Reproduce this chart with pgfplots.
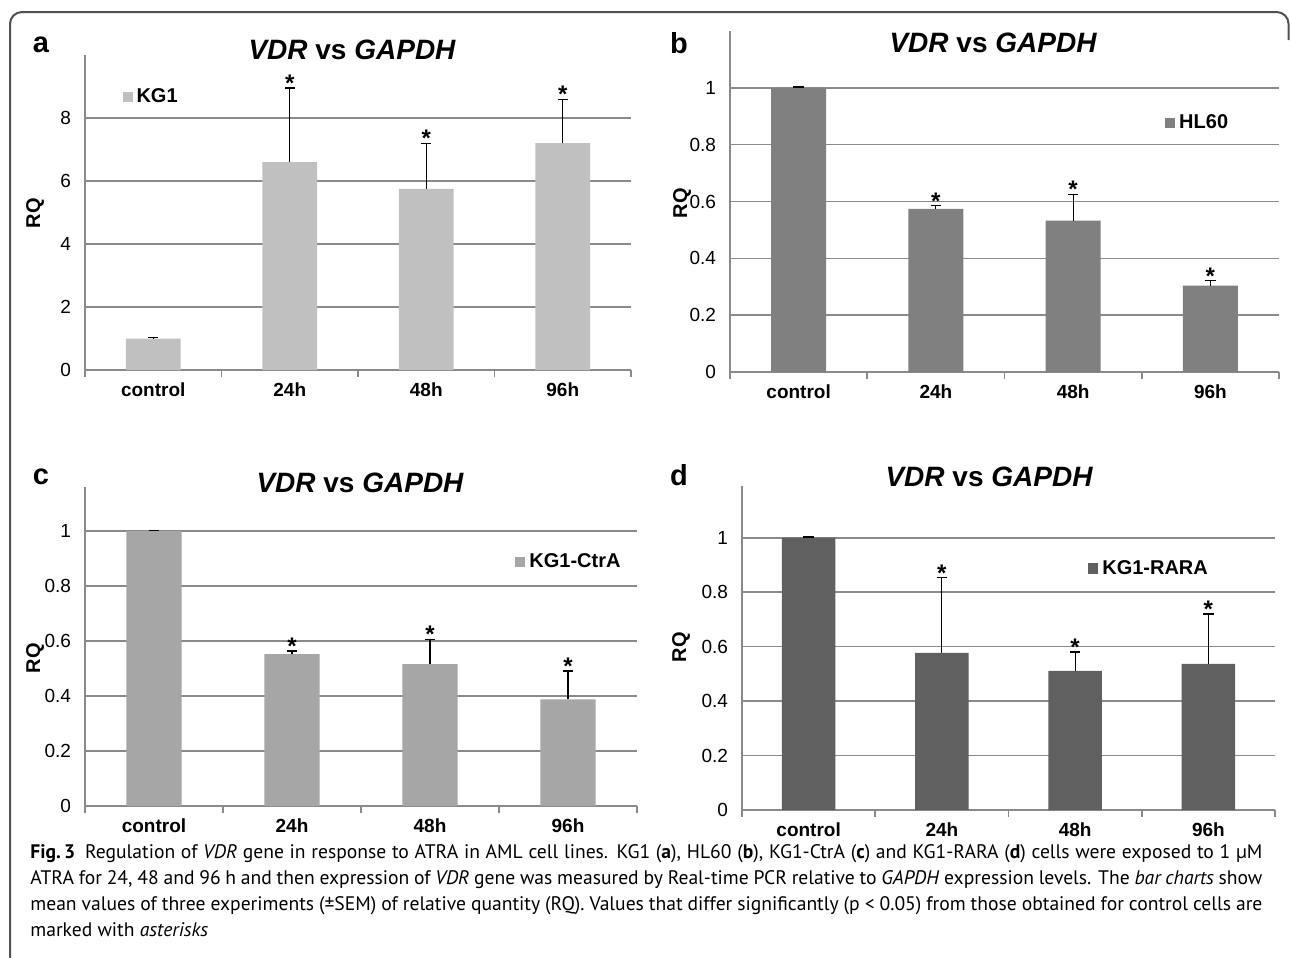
\documentclass[border=0pt]{standalone}
\usepackage{pgfplots}
\pgfplotsset{compat=1.18}
\usepackage{fontspec}
\setmainfont{Liberation Sans}
\newfontfamily\capfont{PT Sans}
\definecolor{barA}{HTML}{C0C0C0}
\definecolor{barB}{HTML}{808080}
\definecolor{barC}{HTML}{A6A6A6}
\definecolor{barD}{HTML}{606060}
\definecolor{gridc}{HTML}{8A8A8A}
\definecolor{framec}{HTML}{505050}

\pgfplotsset{
  panel/.style={
    scale only axis,
    clip=false,
    xmin=-0.5, xmax=3.5,
    ymin=0,
    xtick={0,1,2,3},
    xticklabels={control,24h,48h,96h},
    minor xtick={-0.5,0.5,1.5,2.5,3.5},
    major tick length=0pt,
    minor tick length=3.5pt,
    tick align=outside,
    xtick pos=bottom, ytick pos=left,
    axis x line*=bottom, axis y line*=left,
    axis line style={gridc, line width=0.8pt, -},
    every minor tick/.append style={gridc, line width=0.8pt},
    ymajorgrids, grid style={gridc, line width=0.8pt},
    /pgf/number format/assume math mode=true,
    xticklabel style={font=\bfseries\fontsize{9.5}{10}\selectfont, yshift=-3pt},
    yticklabel style={font=\fontsize{9.5}{10}\selectfont, xshift=-3.5pt},
    legend style={draw=none, fill=none, font=\bfseries\fontsize{10}{11}\selectfont, inner sep=0pt},
  },
  barplot/.style={
    ybar, bar width=0.4, bar shift=0pt, fill=#1, draw=none,
    legend image code/.code={\fill[#1] (0pt,-2.6pt) rectangle (5pt,2.6pt);},
    error bars/.cd, y dir=plus, y explicit,
    error bar style={black, line width=0.6pt},
    error mark options={black, line width=0.6pt, mark size=2.6pt, rotate=90},
  },
  stars/.style={
    draw=none, forget plot,
    nodes near coords={*},
    every node near coord/.append style={font=\bfseries\fontsize{12}{12}\selectfont, anchor=south, inner sep=0pt, yshift=-2pt},
  },
}

\begin{document}
\begin{tikzpicture}
\useasboundingbox (0pt,0pt) rectangle (645pt,-479pt);
\draw[framec, line width=1pt, rounded corners=6pt] (5pt,-480pt) -- (5pt,-6pt) -- (644.3pt,-6pt) -- (644.3pt,-20pt);

% ---------- panel a ----------
\begin{axis}[panel, at={(42.5pt,-185pt)}, anchor=south west,
  width=273pt, height=157.5pt, ymax=10, ytick={0,2,4,6,8},
  legend style={at={(0.068,0.867)}, anchor=west}]
\addplot[barplot=barA] table[x=x, y=y, y error=e] {
x y e
0 1.00 0.02
1 6.60 2.35
2 5.75 1.45
3 7.20 1.40
};
\legend{KG1}
\addplot[stars] coordinates {(1,8.95) (2,7.20) (3,8.60)};
\end{axis}

% ---------- panel b ----------
\begin{axis}[panel, at={(365pt,-186pt)}, anchor=south west,
  width=274.5pt, height=170.5pt, ymax=1.2, ytick={0,0.2,0.4,0.6,0.8,1},
  legend style={at={(0.792,0.73)}, anchor=west}]
\addplot[barplot=barB] table[x=x, y=y, y error=e] {
x y e
0 1.000 0.003
1 0.574 0.011
2 0.533 0.093
3 0.304 0.018
};
\legend{HL60}
\addplot[stars] coordinates {(1,0.585) (2,0.626) (3,0.322)};
\end{axis}

% ---------- panel c ----------
\begin{axis}[panel, at={(42.5pt,-403pt)}, anchor=south west,
  width=276pt, height=159.5pt, ymax=1.16, ytick={0,0.2,0.4,0.6,0.8,1},
  legend style={at={(0.779,0.765)}, anchor=west}]
\addplot[barplot=barC] table[x=x, y=y, y error=e] {
x y e
0 1.000 0.003
1 0.552 0.012
2 0.516 0.090
3 0.388 0.103
};
\legend{KG1-CtrA}
\addplot[stars] coordinates {(1,0.564) (2,0.606) (3,0.491)};
\end{axis}

% ---------- panel d ----------
\begin{axis}[panel, at={(371pt,-405pt)}, anchor=south west,
  width=266.5pt, height=162pt, ymax=1.19, ytick={0,0.2,0.4,0.6,0.8,1},
  legend style={at={(0.649,0.745)}, anchor=west}]
\addplot[barplot=barD] table[x=x, y=y, y error=e] {
x y e
0 1.000 0.003
1 0.577 0.276
2 0.511 0.069
3 0.537 0.183
};
\legend{KG1-RARA}
\addplot[stars] coordinates {(1,0.853) (2,0.580) (3,0.720)};
\end{axis}

% ---------- titles, letters, axis labels ----------
\tikzset{ttl/.style={font=\bfseries\fontsize{14}{16}\selectfont, inner sep=0pt},
         let/.style={font=\bfseries\fontsize{14.5}{16}\selectfont, inner sep=0pt},
         rq/.style={font=\bfseries\fontsize{10}{12}\selectfont, rotate=90, inner sep=0pt}}
\node[ttl] at (176pt,-25pt) {\itshape VDR\upshape{} vs \itshape GAPDH};
\node[ttl] at (496.5pt,-21.5pt) {\itshape VDR\upshape{} vs \itshape GAPDH};
\node[ttl] at (180pt,-241.5pt) {\itshape VDR\upshape{} vs \itshape GAPDH};
\node[ttl] at (494.5pt,-238.5pt) {\itshape VDR\upshape{} vs \itshape GAPDH};
\node[let] at (20.5pt,-22.5pt) {a};
\node[let] at (339.5pt,-21.5pt) {b};
\node[let] at (20.5pt,-238.5pt) {c};
\node[let] at (339.5pt,-237.5pt) {d};
\node[rq] at (17.5pt,-106.5pt) {RQ};
\node[rq] at (341pt,-101.5pt) {RQ};
\node[rq] at (17.5pt,-329pt) {RQ};
\node[rq] at (340.5pt,-323.5pt) {RQ};

% ---------- caption ----------
\node[anchor=north west, inner sep=0pt, text width=616pt, align=justify,
      font=\capfont\fontsize{9.8}{13}\selectfont] at (15pt,-422pt)
{\textbf{Fig.\,3}\enspace Regulation of \textit{VDR} gene in response to ATRA in AML cell lines. KG1 (\textbf{a}), HL60 (\textbf{b}), KG1-CtrA (\textbf{c}) and KG1-RARA (\textbf{d}) cells were exposed to 1 µM\linebreak
ATRA for 24, 48 and 96 h and then expression of \textit{VDR} gene was measured by Real-time PCR relative to \textit{GAPDH} expression levels. The \textit{bar charts} show\linebreak
mean values of three experiments (±SEM) of relative quantity (RQ). Values that differ significantly (p < 0.05) from those obtained for control cells are\linebreak
marked with \textit{asterisks}};
\end{tikzpicture}
\end{document}
